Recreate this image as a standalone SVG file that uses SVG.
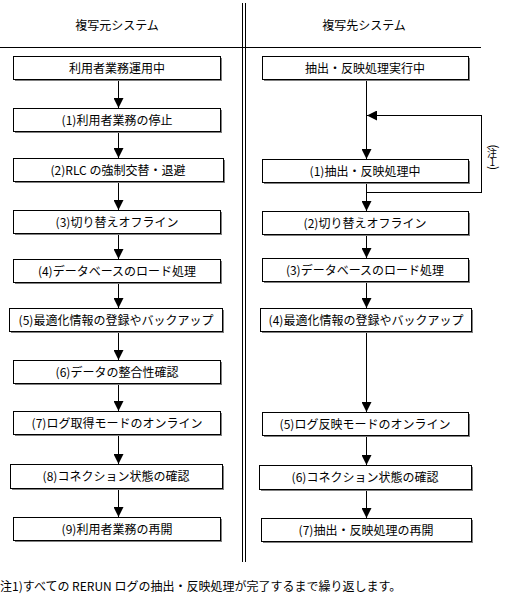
<svg xmlns="http://www.w3.org/2000/svg" width="506" height="602" viewBox="0 0 506 602">
<style>
text{font-family:"Noto Sans CJK JP","Noto Sans CJK SC",sans-serif;font-size:12px;fill:#000}
.c{text-anchor:middle}
.box{fill:#fff;stroke:#000;stroke-width:1}
.sh{fill:#808080}
.ln{fill:none;stroke:#000;stroke-width:1}
</style>
<defs>
<marker id="ah" viewBox="0 0 10 10" refX="10" refY="5" markerWidth="10" markerHeight="10" markerUnits="userSpaceOnUse" orient="auto">
<path d="M0,0 L10,5 L0,10 z" fill="#000"/>
</marker>
</defs>
<rect width="506" height="602" fill="#fff"/>
<g id="frame" shape-rendering="crispEdges">
<line class="ln" x1="0" y1="47.5" x2="481" y2="47.5"/>
<line class="ln" x1="242.5" y1="3" x2="242.5" y2="562"/>
<line class="ln" x1="245.5" y1="3" x2="245.5" y2="562"/>
</g>
<text class="c" x="117" y="30">複写元システム</text>
<text class="c" x="364" y="30">複写先システム</text>

<g id="connectors">
<g shape-rendering="crispEdges">
<path class="ln" d="M118.5,80 V108" marker-end="url(#ah)"/>
<path class="ln" d="M118.5,132 V158" marker-end="url(#ah)"/>
<path class="ln" d="M118.5,183 V210" marker-end="url(#ah)"/>
<path class="ln" d="M118.5,234 V259" marker-end="url(#ah)"/>
<path class="ln" d="M118.5,283 V308" marker-end="url(#ah)"/>
<path class="ln" d="M118.5,331 V360" marker-end="url(#ah)"/>
<path class="ln" d="M118.5,383 V411" marker-end="url(#ah)"/>
<path class="ln" d="M118.5,435 V464" marker-end="url(#ah)"/>
<path class="ln" d="M118.5,489 V517" marker-end="url(#ah)"/>
<path class="ln" d="M366.5,80 V159" marker-end="url(#ah)"/>
<path class="ln" d="M366.5,183 V211" marker-end="url(#ah)"/>
<path class="ln" d="M366.5,235 V258" marker-end="url(#ah)"/>
<path class="ln" d="M366.5,283 V308" marker-end="url(#ah)"/>
<path class="ln" d="M366.5,331 V412" marker-end="url(#ah)"/>
<path class="ln" d="M366.5,435 V465" marker-end="url(#ah)"/>
<path class="ln" d="M366.5,489 V518" marker-end="url(#ah)"/>
<path class="ln" d="M366.5,192.5 H481.5 V115.5 H367" marker-end="url(#ah)"/>
</g>
<text id="note-label" style="font-size:10px"><tspan x="488.5" y="144.5" rotate="90" style="font-size:12px">(</tspan><tspan x="487" y="157">注</tspan><tspan x="489.5" y="165.5">1</tspan><tspan x="488.5" y="166" rotate="90" style="font-size:12px">)</tspan></text>
</g>

<g id="L0"><rect class="sh" x="15" y="58" width="207" height="23"/><rect class="box" x="13.5" y="56.5" width="207" height="23"/><text class="c" x="117" y="72.5">利用者業務運用中</text></g>
<g id="L1"><rect class="sh" x="15" y="110" width="207" height="23"/><rect class="box" x="13.5" y="108.5" width="207" height="23"/><text class="c" x="117" y="124.5">(1)利用者業務の停止</text></g>
<g id="L2"><rect class="sh" x="15" y="160" width="210" height="23"/><rect class="box" x="13.5" y="158.5" width="210" height="23"/><text class="c" x="118" y="174.5">(2)RLC の強制交替・退避</text></g>
<g id="L3"><rect class="sh" x="15" y="212" width="207" height="23"/><rect class="box" x="13.5" y="210.5" width="207" height="23"/><text class="c" x="117" y="226.5">(3)切り替えオフライン</text></g>
<g id="L4"><rect class="sh" x="15" y="261" width="207" height="23"/><rect class="box" x="13.5" y="259.5" width="207" height="23"/><text class="c" x="117" y="275.5">(4)データベースのロード処理</text></g>
<g id="L5"><rect class="sh" x="11" y="310" width="213" height="23"/><rect class="box" x="9.5" y="308.5" width="213" height="23"/><text class="c" x="116" y="324.5">(5)最適化情報の登録やバックアップ</text></g>
<g id="L6"><rect class="sh" x="15" y="362" width="207" height="23"/><rect class="box" x="13.5" y="360.5" width="207" height="23"/><text class="c" x="117" y="376.5">(6)データの整合性確認</text></g>
<g id="L7"><rect class="sh" x="15" y="413" width="207" height="23"/><rect class="box" x="13.5" y="411.5" width="207" height="23"/><text class="c" x="117" y="427.5">(7)ログ取得モードのオンライン</text></g>
<g id="L8"><rect class="sh" x="12" y="466" width="212" height="24"/><rect class="box" x="10.5" y="464.5" width="212" height="24"/><text class="c" x="116" y="481">(8)コネクション状態の確認</text></g>
<g id="L9"><rect class="sh" x="15" y="519" width="207" height="23"/><rect class="box" x="13.5" y="517.5" width="207" height="23"/><text class="c" x="117" y="533.5">(9)利用者業務の再開</text></g>

<g id="R0"><rect class="sh" x="264" y="58" width="206" height="23"/><rect class="box" x="262.5" y="56.5" width="206" height="23"/><text class="c" x="365" y="72.5">抽出・反映処理実行中</text></g>
<g id="R1"><rect class="sh" x="264" y="161" width="206" height="23"/><rect class="box" x="262.5" y="159.5" width="206" height="23"/><text class="c" x="365" y="175.5">(1)抽出・反映処理中</text></g>
<g id="R2"><rect class="sh" x="264" y="213" width="206" height="23"/><rect class="box" x="262.5" y="211.5" width="206" height="23"/><text class="c" x="365" y="227.5">(2)切り替えオフライン</text></g>
<g id="R3"><rect class="sh" x="264" y="260" width="206" height="23"/><rect class="box" x="262.5" y="258.5" width="206" height="23"/><text class="c" x="365" y="274.5">(3)データベースのロード処理</text></g>
<g id="R4"><rect class="sh" x="262" y="310" width="211" height="23"/><rect class="box" x="260.5" y="308.5" width="211" height="23"/><text class="c" x="366" y="324.5">(4)最適化情報の登録やバックアップ</text></g>
<g id="R5"><rect class="sh" x="264" y="414" width="206" height="23"/><rect class="box" x="262.5" y="412.5" width="206" height="23"/><text class="c" x="365" y="428.5">(5)ログ反映モードのオンライン</text></g>
<g id="R6"><rect class="sh" x="261" y="467" width="212" height="24"/><rect class="box" x="259.5" y="465.5" width="212" height="24"/><text class="c" x="365" y="482">(6)コネクション状態の確認</text></g>
<g id="R7"><rect class="sh" x="263" y="520" width="210" height="23"/><rect class="box" x="261.5" y="518.5" width="210" height="23"/><text class="c" x="366" y="534.5">(7)抽出・反映処理の再開</text></g>

<text x="0" y="591">注1)すべての RERUN ログの抽出・反映処理が完了するまで繰り返します。</text>
</svg>
